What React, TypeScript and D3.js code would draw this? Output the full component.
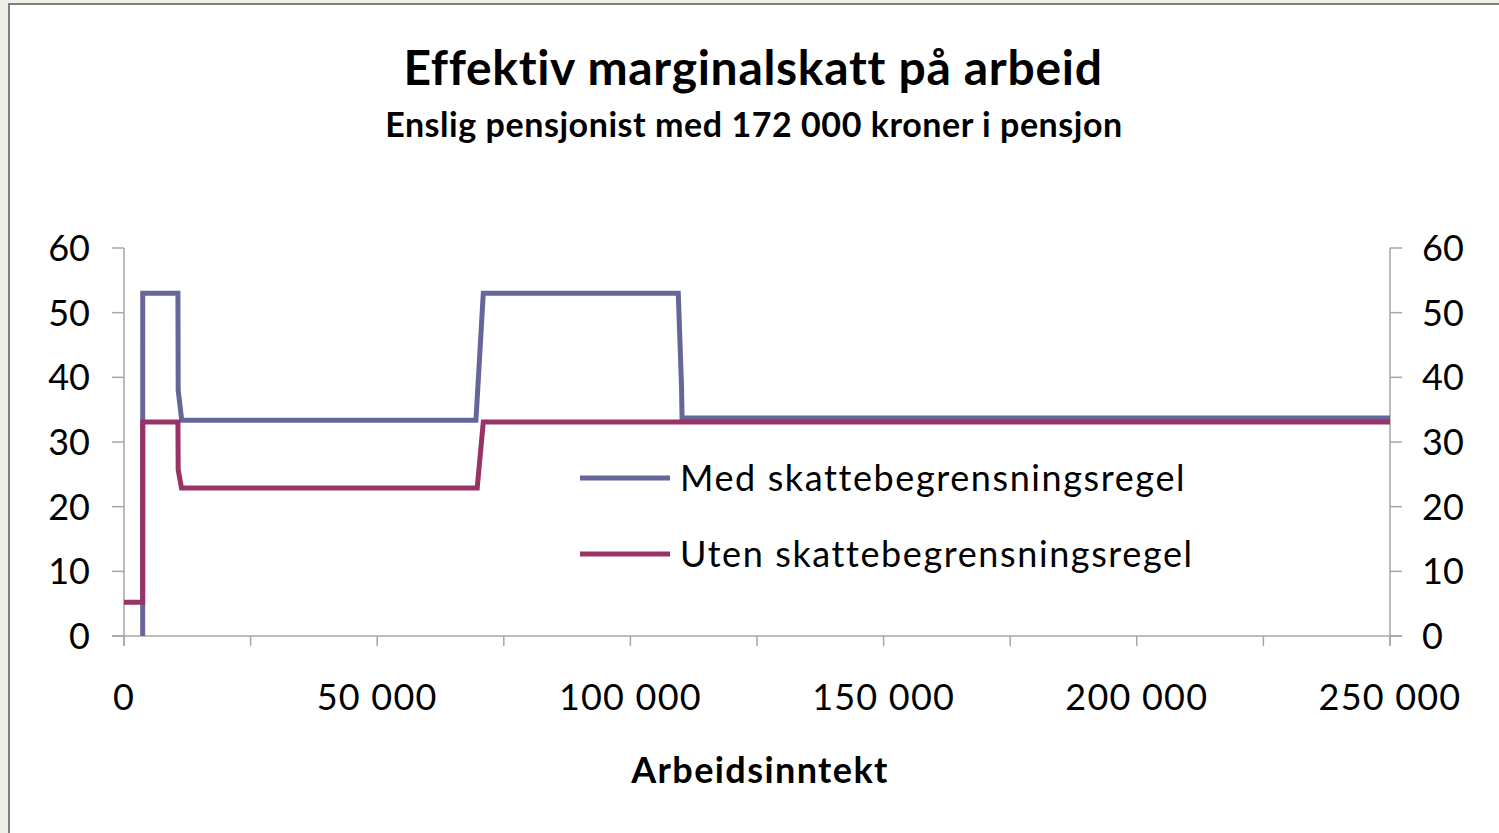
import React from "react";
import * as d3 from "d3";

// Arbeidsinntekt (kr) and effective marginal tax (%)
const medX = [3690, 3700, 10650, 10700, 11400, 69500, 70950, 109450, 110100, 110200, 250000];
const medY = [0, 53.0, 53.0, 38.0, 33.35, 33.35, 53.0, 53.0, 38.5, 33.7, 33.7];

const utenX = [0, 3690, 3700, 10650, 10700, 11350, 69750, 70950, 250000];
const utenY = [5.2, 5.2, 33.1, 33.1, 25.7, 22.9, 22.9, 33.1, 33.1];

const seriesNames = ["Med skattebegrensningsregel", "Uten skattebegrensningsregel"];
const seriesColors = ["#666699", "#993366"];

const yTicks = [0, 10, 20, 30, 40, 50, 60];
const xTickMarks = [0, 25000, 50000, 75000, 100000, 125000, 150000, 175000, 200000, 225000, 250000];
const xTickLabels = [0, 50000, 100000, 150000, 200000, 250000];

const title = "Effektiv marginalskatt på arbeid";
const subtitle = "Enslig pensjonist med 172 000 kroner i pensjon";
const xTitle = "Arbeidsinntekt";

const W = 1499, H = 833;
const left = 124, right = 1390, top = 248, bottom = 636;
const font = "Lato, 'Open Sans', sans-serif";
const axisColor = "#a6a6a6";

const fmt = (v: number) => d3.format(",")(v).replace(/,/g, " ");

export default function App() {
  const x = d3.scaleLinear().domain([0, 250000]).range([left, right]);
  const y = d3.scaleLinear().domain([0, 60]).range([bottom, top]);

  const line = d3.line<[number, number]>().x(d => x(d[0])).y(d => y(d[1]));
  const med = medX.map((v, i) => [v, medY[i]] as [number, number]);
  const uten = utenX.map((v, i) => [v, utenY[i]] as [number, number]);
  const series = [med, uten];

  return (
    <svg width={W} height={H} style={{ position: "fixed", left: 0, top: 0, display: "block" }} fontFamily={font}>
      <rect x={0} y={0} width={W} height={H} fill="#efefe7" />
      <rect x={9} y={4} width={W + 50} height={H + 50} fill="#ffffff" stroke="#7f7f7f" strokeWidth={2} />

      <text x={753} y={85} textAnchor="middle" fontSize={48} fontWeight="bold" letterSpacing={0.7} fill="#000">{title}</text>
      <text x={754} y={137} textAnchor="middle" fontSize={34} fontWeight="bold" letterSpacing={0.55} fill="#000">{subtitle}</text>

      {/* axes */}
      <g stroke={axisColor} strokeWidth={1.5} fill="none">
        <line x1={left - 12} x2={right + 12} y1={bottom} y2={bottom} />
        <line x1={left} x2={left} y1={top} y2={bottom + 10} />
        <line x1={right} x2={right} y1={top} y2={bottom + 10} />
        {yTicks.map(t => (
          <g key={"yt" + t}>
            <line x1={left - 12} x2={left} y1={y(t)} y2={y(t)} />
            <line x1={right} x2={right + 12} y1={y(t)} y2={y(t)} />
          </g>
        ))}
        {xTickMarks.map(t => (
          <line key={"xt" + t} x1={x(t)} x2={x(t)} y1={bottom} y2={bottom + 10} />
        ))}
      </g>

      <g fontSize={36} fill="#000">
        {yTicks.map(t => (
          <g key={"yl" + t}>
            <text x={left - 34} y={y(t) + 13} textAnchor="end">{t}</text>
            <text x={right + 32} y={y(t) + 13} textAnchor="start">{t}</text>
          </g>
        ))}
        {xTickLabels.map(t => (
          <text key={"xl" + t} x={x(t)} y={710} textAnchor="middle" letterSpacing={1.2}>{fmt(t)}</text>
        ))}
      </g>

      <text x={760} y={783} textAnchor="middle" fontSize={36} fontWeight="bold" letterSpacing={1.4} fill="#000">{xTitle}</text>

      {series.map((s, i) => (
        <path key={"s" + i} d={line(s) || ""} fill="none" stroke={seriesColors[i]} strokeWidth={5} strokeLinejoin="miter" />
      ))}

      {/* legend */}
      {seriesNames.map((n, i) => (
        <g key={"lg" + i} transform={`translate(580, ${478 + i * 76})`}>
          <line x1={0} x2={90} y1={0} y2={0} stroke={seriesColors[i]} strokeWidth={5} />
          <text x={100} y={13} fontSize={36} letterSpacing={1.6} fill="#000">{n}</text>
        </g>
      ))}
    </svg>
  );
}
